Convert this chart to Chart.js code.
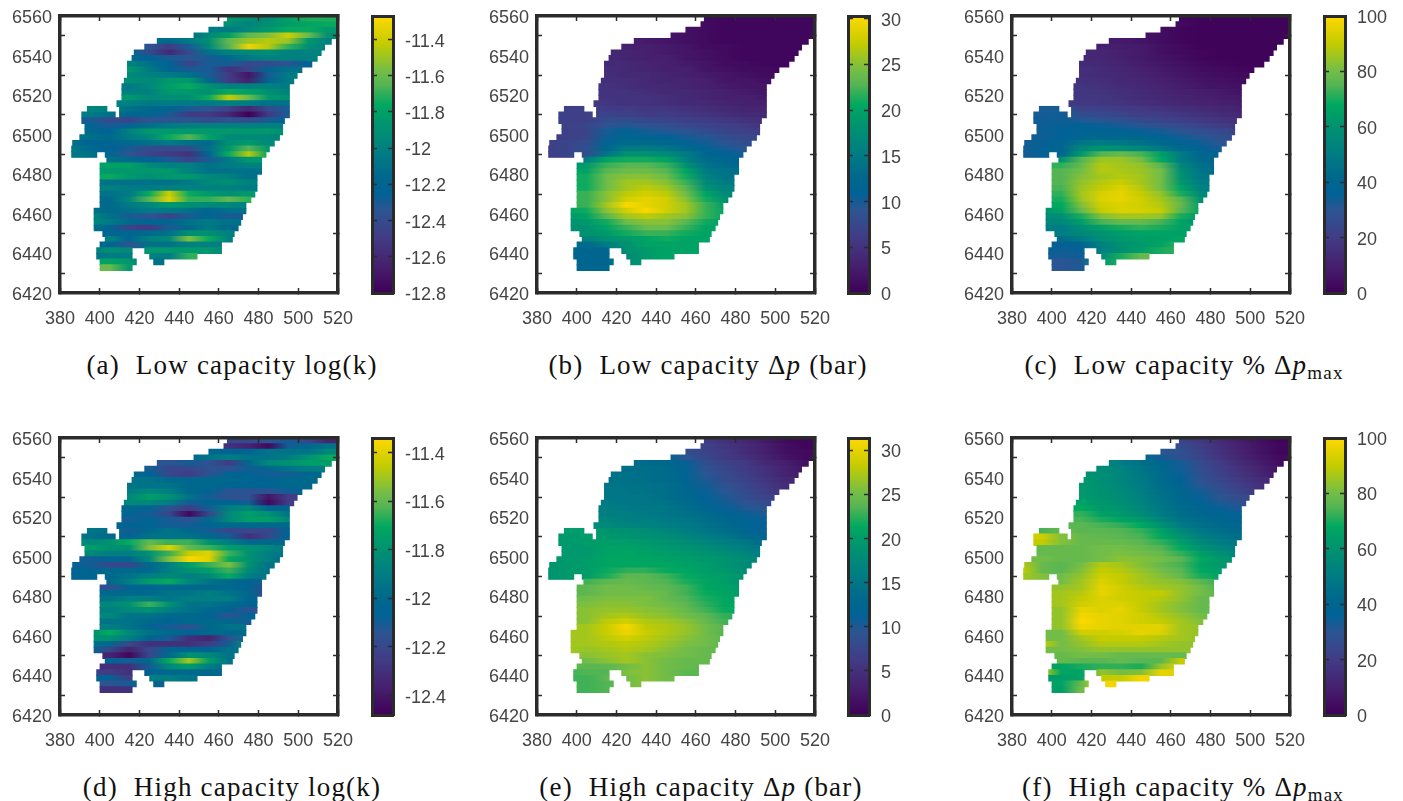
<!DOCTYPE html>
<html lang="en">
<head>
<meta charset="UTF-8" />
<title>Low and high capacity reservoir maps</title>
<script src="https://cdn.jsdelivr.net/npm/chart.js"></script>
<style>
  body { margin: 0; background: #fff; width: 1403px; height: 801px; position: relative; overflow: hidden; }
  canvas { position: absolute; filter: blur(0.5px); }
  .cap { position: absolute; font-family: 'Liberation Serif', serif; font-size: 27px; letter-spacing: 1.2px; color: #111; white-space: nowrap; transform: translateX(-50%); line-height: 28px; }
  .cap i { font-style: italic; }
  .cap sub { font-size: 19px; line-height: 0; vertical-align: -5px; }
</style>
</head>
<body>
<canvas id="pa" width="365" height="330" style="left:0;top:0"></canvas><canvas id="ca" width="91" height="330" style="left:367px;top:0"></canvas>
<canvas id="pb" width="365" height="330" style="left:477px;top:0"></canvas><canvas id="cb" width="91" height="330" style="left:843px;top:0"></canvas>
<canvas id="pc" width="365" height="330" style="left:952px;top:0"></canvas><canvas id="cc" width="91" height="330" style="left:1319px;top:0"></canvas>
<canvas id="pd" width="365" height="330" style="left:0;top:422px"></canvas><canvas id="cd" width="91" height="330" style="left:367px;top:422px"></canvas>
<canvas id="pe" width="365" height="330" style="left:477px;top:422px"></canvas><canvas id="ce" width="91" height="330" style="left:843px;top:422px"></canvas>
<canvas id="pf" width="365" height="330" style="left:952px;top:422px"></canvas><canvas id="cf" width="91" height="330" style="left:1319px;top:422px"></canvas>
<div class="cap" style="left:232px;top:351px">(a)&nbsp; Low capacity log(k)</div>
<div class="cap" style="left:708px;top:351px">(b)&nbsp; Low capacity &Delta;<i>p</i> (bar)</div>
<div class="cap" style="left:1184px;top:351px">(c)&nbsp; Low capacity % &Delta;<i>p</i><sub>max</sub></div>
<div class="cap" style="left:232px;top:773px">(d)&nbsp; High capacity log(k)</div>
<div class="cap" style="left:701px;top:773px">(e)&nbsp; High capacity &Delta;<i>p</i> (bar)</div>
<div class="cap" style="left:1183px;top:773px">(f)&nbsp; High capacity % &Delta;<i>p</i><sub>max</sub></div>
<script>
const xTicks = [380, 400, 420, 440, 460, 480, 500, 520];
const yTicks = [6420, 6440, 6460, 6480, 6500, 6520, 6540, 6560];
const logkLowTicks = [-12.8, -12.6, -12.4, -12.2, -12, -11.8, -11.6, -11.4];
const logkHighTicks = [-12.4, -12.2, -12, -11.8, -11.6, -11.4];
const dpTicks = [0, 5, 10, 15, 20, 25, 30];
const pctTicks = [0, 20, 40, 60, 80, 100];

// model layers, top to bottom
const rowY = [6558.57, 6555.71, 6552.86, 6550, 6547.14, 6544.29, 6541.43, 6538.57, 6535.71, 6532.86, 6530, 6527.14, 6524.29, 6521.43, 6518.57, 6515.71, 6512.86, 6510, 6507.14, 6504.29, 6501.43, 6498.57, 6495.71, 6492.86, 6490, 6487.14, 6484.29, 6481.43, 6478.57, 6475.71, 6472.86, 6470, 6467.14, 6464.29, 6461.43, 6458.57, 6455.71, 6452.86, 6450, 6447.14, 6444.29, 6441.43, 6438.57, 6435.71, 6432.86];

// x extent of the reservoir in each layer
const rowSegments = [
  [[464.3,520]], [[462.6,520]], [[455,520]], [[447.5,520]], [[429,516.6]], [[422.7,513.2]], [[417.4,511.5]], [[416.3,509.5]], [[414,506.8]],
  [[414,501.8]], [[414,499.4]], [[412.4,497.7]], [[411.2,495.5]], [[411.2,495.5]], [[411.2,495.5]], [[408.7,495.5]],
  [[393.8,403.6],[410,495.5]], [[391,407.8],[410,495.5]], [[391,493]], [[392.6,492.1]], [[392.6,492.1]], [[390,490.5]],
  [[386.4,487.9]], [[385.9,485.4]], [[385.9,398.5],[402.8,483.7]], [[403.6,481.5]], [[400.2,481.5]], [[400.2,481.5]],
  [[400.2,479.2]], [[400.2,479.2]], [[400.2,479.2]], [[400.2,478.1]], [[400.2,476.1]], [[400.2,473.6]],
  [[397.2,473.6]], [[397.2,471.9]], [[397.2,471]], [[397.2,469.7]], [[401.6,467.7]], [[402.8,466.8]],
  [[400.2,461.3]], [[398.5,416.3],[422.7,461.3]], [[398.5,416.3],[425.2,449]], [[400.2,418.4],[427.2,432.3]], [[400.2,416.3]]
];

// values per layer, sampled every 10 km from the first column the layer touches
const logkLow = [
  [-11.85,-11.9,-11.95,-11.8,-11.72,-11.72],
  [-11.9,-11.98,-11.9,-11.82,-11.78,-11.75],
  [-12.05,-12.05,-11.95,-11.85,-11.75,-11.75,-11.85],
  [-12.1,-11.95,-11.8,-11.62,-11.55,-11.4,-11.6,-11.9],
  [-12.1,-12.15,-12.05,-11.9,-11.62,-11.5,-11.45,-11.5,-11.85,-12],
  [-12.35,-12.5,-12.3,-11.95,-11.65,-11.32,-11.45,-11.7,-11.9,-12],
  [-12.15,-12.4,-12.6,-12.4,-12.1,-12,-11.95,-11.9,-12,-12,-12],
  [-12.15,-12.25,-12.3,-12.35,-12.3,-12.15,-12.05,-12,-12,-12],
  [-12,-12.1,-12.25,-12.45,-12.3,-12.3,-12.4,-12.4,-12.35,-12.25],
  [-11.85,-12.05,-12.2,-12.3,-12.3,-12.55,-12.45,-12.2,-12.1,-12.1],
  [-11.95,-12,-12.05,-12.1,-12.3,-12.5,-12.7,-12.3,-12.05],
  [-11.9,-11.95,-11.85,-11.85,-12.15,-12.5,-12.65,-12.2,-12.05],
  [-12.05,-11.95,-11.82,-11.75,-11.9,-12,-12,-12,-12.05],
  [-12,-12,-11.85,-11.85,-11.9,-11.75,-11.8,-11.9,-12],
  [-11.85,-11.95,-11.9,-11.9,-11.75,-11.42,-11.6,-11.85,-11.9],
  [-12,-12,-12.05,-12.05,-12.05,-12.05,-12,-12.05,-12.1,-12.1],
  [-11.98,-12,-12.1,-12.15,-12.2,-12.3,-12.35,-12.45,-12.6,-12.4,-12.3],
  [-12.05,-12.1,-12.2,-12.2,-12.3,-12.5,-12.5,-12.6,-12.8,-12.5,-12.3],
  [-12.3,-12.4,-12.45,-12.35,-12.35,-12.35,-12.4,-12.35,-12.4,-12.3,-12.2],
  [-12.2,-12.3,-12.2,-12.1,-12.05,-12,-12,-12,-12,-12,-12],
  [-12.15,-12.25,-12,-11.85,-11.85,-11.85,-11.85,-11.85,-11.85,-11.85,-11.95],
  [-12.1,-12.15,-12.05,-11.95,-11.75,-11.65,-11.8,-11.95,-11.95,-11.95,-12],
  [-12.1,-12.25,-12.2,-12.15,-12.1,-12.05,-12.1,-12.15,-11.9,-11.85,-11.95],
  [-12.05,-12.15,-12.25,-12.3,-12.4,-12.4,-12.4,-12.1,-11.85,-11.65,-11.85],
  [-12.05,-12.1,-12.2,-12.35,-12.45,-12.5,-12.55,-12.2,-11.75,-11.45,-11.8],
  [-12.1,-12.15,-12.25,-12.3,-12.45,-12.3,-12.05,-11.85,-11.85],
  [-11.8,-11.8,-11.95,-12,-12,-12.1,-12.05,-12,-12],
  [-11.85,-11.85,-11.85,-11.85,-12,-12.1,-12.1,-12.1,-12.1],
  [-11.75,-11.85,-11.9,-11.85,-11.85,-11.95,-12,-12.1],
  [-12.1,-12.1,-12.1,-12.1,-12.05,-11.95,-11.9,-12],
  [-12,-12.05,-12.05,-12,-12,-12,-12,-12.05],
  [-12.1,-12.05,-11.75,-11.4,-11.75,-11.85,-11.9,-11.85],
  [-12.15,-11.95,-11.65,-11.35,-11.7,-11.7,-11.62,-11.7],
  [-12.15,-12.05,-11.95,-11.85,-11.9,-11.95,-11.95,-12],
  [-12.1,-12.15,-12.1,-12.05,-12.05,-12.1,-12.2,-12.1,-12.1],
  [-11.95,-12.1,-12.3,-12.35,-12.45,-12.3,-12.2,-12.3,-12.3],
  [-11.95,-12.05,-12.15,-12.2,-12.2,-12.1,-12.05,-12.1,-12.1],
  [-12.1,-12.2,-12.45,-12.5,-12.3,-12.15,-12.05,-12.15],
  [-12.2,-12.2,-12.15,-12.1,-11.9,-11.9,-12],
  [-12,-12.2,-12,-11.95,-11.55,-11.75,-12],
  [-12.2,-12.35,-12.1,-12.1,-12,-12,-12.05],
  [-12.05,-11.9,-11.95,-11.85,-11.85,-11.85,-11.85,-12],
  [-12.1,-12.05,-12.05,-12,-12.05,-11.7],
  [-11.8,-11.85,-12.1,-12.1],
  [-11.6,-11.85]
];
const dpLow = [
  [1,.5,.5,.5,.5,.5],
  [1,.5,.5,.5,.5,.5],
  [1.5,1,.5,.5,.5,.5,.5],
  [2,1.5,1,.5,.5,.5,.5,.5],
  [3,2.5,2,1.5,1,.5,.5,.5,.5,.5],
  [3,3,2.5,2,1,1,.5,.5,.5,.5],
  [4,3.5,3,2.5,2,1.5,1,.5,.5,.5,.5],
  [4,3.5,3,3,2,1.5,1,.5,.5,.5],
  [4,4,3.5,3,2.5,2,1,1,.5,.5],
  [4.5,4,3.5,3,3,2,1.5,1,1,.5],
  [4.5,4,4,3.5,3,2.5,2,1.5,1],
  [4.5,4.5,4,3.5,3.5,3,2,2,1.5],
  [5,4.5,4,4,3.5,3,2.5,2,2],
  [5,5,4.5,4,4,3.5,3,2.5,2],
  [5,5,5,4.5,4,3.5,3,3,2.5],
  [5.5,5.5,5,5,4.5,4,4,3.5,3,3],
  [6.5,6.5,6,6,5.5,5.5,5,4.5,4,3.5,3.5],
  [6.5,6.5,7,6.5,6,6,5.5,5,4.5,4,4],
  [6.5,6.5,8,8,7.5,7,6.5,6,5.5,5,4.5],
  [6.5,7,9,9.5,9,8.5,7.5,7,6.5,6,5],
  [6.5,7,10,11,10,9.5,9,8,7,6.5,6],
  [6.5,7,10.5,12,12,11,10,9.5,8,7.5,7],
  [6.5,7,8,11.5,13,13,12.5,11.5,10,9,8],
  [6.5,7,8.5,12.5,15,15,14.5,13,11.5,10,9],
  [6.5,7,8,14,18,18,17,15,12,11,10],
  [15,20,21,21,20,16,13,12,11],
  [19,22,23,23,22,18,14,13,12],
  [20,23,24,24,23,20,15,14,13],
  [21,24,25,25,24,21,16,14],
  [21,24,26,26,25,22,17,15],
  [21,24,26,27,26,23,18,16],
  [22,25,27,28,27,24,20,17],
  [22,25,28,29,28,25,21,18],
  [22,26,30,29,28,26,22,19],
  [20,21,25,28,30,28,26,22,20],
  [19,20,23,26,27,26,25,22,20],
  [18,19,21,24,25,25,23,21,19],
  [18,18,20,22,24,24,22,20],
  [18,19,21,22,22,21,20],
  [16,18,19,20,21,20,20],
  [13,15,18,20,20,20,20],
  [12,12,12,18,19,20,20,20],
  [12,12,12,17,19,20],
  [12,12,17,19],
  [12,12]
];
const pctLow = [
  [2,1,1,1,1,1],
  [3,1,1,1,1,1],
  [4,2,1,1,1,1,1],
  [6,4,2,1,1,1,1,1],
  [9,8,6,4,2,1,1,1,1,1],
  [10,9,8,5,3,1,1,1,1,1],
  [13,12,10,8,5,3,2,1,1,1,1],
  [13,12,10,8,6,4,2,1,1,1],
  [14,13,11,9,7,5,3,2,1,1],
  [15,14,12,10,8,6,4,3,2,1],
  [15,14,13,11,9,7,5,4,3],
  [16,15,13,12,10,8,6,5,4],
  [17,16,14,13,11,9,7,6,5],
  [18,17,15,14,12,10,9,8,6],
  [18,18,16,14,13,11,10,9,8],
  [19,19,18,17,15,14,12,11,10,9],
  [33,33,22,22,20,19,17,15,14,12,11],
  [33,34,26,25,23,21,20,18,16,14,13],
  [34,34,32,30,28,25,23,21,19,17,15],
  [34,35,36,35,33,31,28,26,23,20,18],
  [34,36,38,38,37,35,33,30,27,25,22],
  [34,36,40,42,41,40,37,34,31,28,25],
  [33,35,38,47,50,48,46,42,38,34,30],
  [33,36,40,55,60,58,55,48,42,37,33],
  [33,35,40,62,75,78,74,65,50,40,36],
  [60,75,85,85,80,68,50,42,38],
  [72,78,88,86,84,76,55,45,40],
  [75,80,88,87,85,80,58,47,42],
  [75,82,86,88,86,80,60,48],
  [75,84,88,91,86,80,62,50],
  [74,85,90,94,88,80,66,52],
  [72,86,93,96,90,84,70,56],
  [70,85,94,96,92,86,76,60],
  [68,82,92,94,92,88,78,64],
  [60,66,78,90,94,93,90,76,66],
  [55,58,70,82,86,86,84,70,62],
  [54,55,64,74,78,78,74,66,60],
  [50,50,58,65,70,72,70,65],
  [50,55,60,64,66,66,65],
  [44,50,58,62,64,65,67],
  [35,38,52,60,62,66,72],
  [36,34,35,52,58,64,70,72],
  [34,33,34,56,70,78],
  [30,32,62,70],
  [30,32]
];
const logkHigh = [
  [-12.2,-12.2,-12.15,-12.1,-12.2,-12.35],
  [-12.3,-12.35,-12.45,-12.1,-12,-11.95],
  [-12,-12.05,-12.05,-11.95,-11.95,-11.95,-11.85],
  [-12,-11.95,-11.9,-11.95,-11.95,-11.9,-11.8,-11.7],
  [-12.15,-12.15,-12.1,-12.15,-12.25,-12,-11.85,-11.8,-11.75,-11.75],
  [-12.1,-12.2,-12.2,-12.15,-12.15,-12.1,-12,-11.95,-11.9,-11.9],
  [-12,-12.05,-12.2,-12.25,-12.15,-12.05,-12.05,-12.1,-12.1,-12,-12],
  [-11.95,-11.95,-12,-12,-12,-12,-12.05,-12.05,-12,-12],
  [-11.95,-11.95,-11.95,-12,-12,-12.05,-12.05,-12.05,-12,-12],
  [-11.9,-11.85,-11.9,-12,-12.05,-12.15,-12.15,-12.15,-12.1,-12.05],
  [-11.85,-11.75,-11.8,-11.95,-12.1,-12.15,-12.15,-12.4,-12.25],
  [-11.85,-11.85,-11.9,-12.1,-12.05,-12.05,-12.1,-12.45,-12.25],
  [-12,-12.05,-12.15,-12.25,-12.1,-11.9,-11.85,-12.05,-12.05],
  [-12.05,-12.1,-12.2,-12.45,-12.2,-11.85,-11.75,-11.8,-11.95],
  [-12.1,-12.05,-12.1,-12.15,-12,-11.85,-11.75,-11.75,-11.85],
  [-12.05,-12.05,-12.05,-12.1,-12.1,-12.05,-12,-12,-12,-12],
  [-11.95,-11.95,-12.1,-12,-11.95,-12,-12.1,-12.2,-12.2,-12.2,-12.05],
  [-11.95,-12,-12.05,-11.95,-11.95,-11.95,-12,-12.1,-12.3,-12.2,-12.05],
  [-11.85,-11.8,-11.7,-11.6,-11.65,-11.65,-11.8,-11.9,-12,-12,-12],
  [-11.75,-11.8,-11.8,-11.55,-11.4,-11.6,-11.65,-11.75,-11.8,-11.85,-11.95],
  [-11.85,-11.9,-11.9,-11.8,-11.65,-11.45,-11.4,-11.65,-11.8,-11.9,-11.95],
  [-12.1,-12.05,-12,-11.85,-11.55,-11.35,-11.4,-11.7,-11.8,-11.9,-12],
  [-12.05,-12.1,-12.2,-12.2,-12,-11.9,-11.75,-11.65,-11.55,-11.8,-11.95],
  [-12.05,-12.05,-12,-12,-12,-11.9,-11.8,-11.75,-11.65,-11.85,-11.95],
  [-12.05,-12.05,-12,-11.95,-11.9,-11.85,-11.9,-11.85,-11.7,-11.9,-11.95],
  [-12,-11.9,-11.75,-11.7,-11.85,-11.95,-12,-12.05,-12.1],
  [-12.15,-12.05,-12.05,-12,-12,-12,-12,-12.05,-12.2],
  [-12,-12,-12,-11.95,-11.95,-11.9,-11.95,-12,-12.2],
  [-11.95,-11.9,-11.9,-11.95,-11.9,-11.9,-11.9,-12.05],
  [-11.85,-11.8,-11.65,-11.8,-11.95,-11.95,-12,-12.05],
  [-11.9,-11.85,-11.8,-11.9,-11.95,-12,-12.05,-12.15],
  [-11.85,-11.95,-11.95,-12,-12,-12.05,-12.15,-12.05],
  [-11.95,-11.95,-12,-12.05,-12,-12,-12,-12.1],
  [-11.9,-11.95,-12.05,-12.1,-12.15,-12,-11.95,-11.95],
  [-11.85,-11.7,-11.85,-11.95,-12,-12.05,-12,-12,-12],
  [-11.8,-11.8,-11.9,-12.05,-12.1,-12.3,-12.35,-12.15,-11.95],
  [-11.95,-12,-12.2,-12.3,-12.3,-12.3,-12.25,-12.1,-11.8],
  [-12.05,-12.2,-12.35,-12.2,-12.05,-12.05,-12.05,-11.95],
  [-12.35,-12.45,-12.2,-12,-11.8,-11.85,-11.95],
  [-12.05,-12.1,-12,-11.7,-11.5,-11.75,-11.95],
  [-12.3,-12.3,-12.1,-11.85,-11.75,-11.9,-12],
  [-12.25,-12.25,-12.3,-12.05,-12,-12,-12,-12],
  [-12.05,-12.05,-12.25,-11.9,-11.9,-11.95],
  [-12.15,-12.1,-12,-12.1],
  [-12.3,-12.3]
];
const dpHigh = [
  [6,5,4,2.5,1,.5],
  [7,5.5,4.5,3,1.5,.5],
  [8.5,7,6,4.5,3,1.5,1],
  [12,9.5,7.5,6,5,3.5,2,1],
  [14,13.5,13,11,8.5,7,6,4,3,1.5],
  [14,14,13.5,12,9,7.5,6,5,3.5,2],
  [14.5,14.5,14,13.5,12,9.5,8,6.5,5,3.5,2.5],
  [14.5,14.5,14,13.5,12,10,8,7,5.5,4],
  [15,14.5,14.5,14,12.5,10.5,9,7.5,6,4.5],
  [15,15,14.5,14,13,11,9.5,8,6.5,5],
  [15,15,15,14,13,11.5,10,8.5,7],
  [15.5,15,15,14.5,13.5,12,10.5,9,8],
  [16,15.5,15,15,14,12.5,11,10,9],
  [16,16,15.5,15,14.5,13.5,12,11,10],
  [17,16,16,15.5,15,14,13,12,11],
  [18,17.5,17,16.5,16,15.5,14.5,13.5,12,11],
  [20,20,19,18.5,18,17,16,15,14,12.5,11],
  [19.5,20,19.5,19,18.5,18,17,16,15,13.5,12],
  [19.5,20,20,20,19.5,19,18,17,16,15,13],
  [19.5,19.5,20.5,20.5,20,19.5,19,18,17,16,14.5],
  [19.5,19.5,20.5,21,20.5,20,19.5,19,18,17,15.5],
  [19.5,20,21,21,21,20.5,20,19.5,19,18,16.5],
  [19,19.5,20,21,21,21,21,20.5,20,19,17.5],
  [19,19.5,20,21.5,22.5,22.5,21.5,21,20,19.5,18],
  [19,19.5,20,22,24,24,23,21.5,20.5,20,19],
  [23,24,24.5,24,23.5,22,21,20,19],
  [24,25,25,24.5,24,23,21,20.5,19.5],
  [24,25,25,25,24.5,23,21.5,20.5,20],
  [25,25.5,25.5,25.5,24.5,23.5,22,21],
  [25.5,26,26,25.5,25,24,22.5,21],
  [26,26.5,26.5,26,25.5,24.5,23,21.5],
  [26,27,27.5,26.5,26,25,24,22.5],
  [26,28,29,27.5,27,26,24.5,23],
  [27,28.5,31,28,27.5,26.5,25,23.5],
  [27,27,28.5,30.5,28.5,27.5,26.5,25,23.5],
  [27,27,28,29,28,27,26,25,24],
  [27,27,27.5,28,27.5,26.5,25.5,25,24],
  [27,26.5,27,27.5,27,26,25,24.5],
  [26,26.5,27,26,25.5,25,24.5],
  [25,26,27,26,25,24.5,24.5],
  [24,24,25,26,25,24.5,24],
  [23,23.5,23.5,25.5,26,25,24,24],
  [23,23,24,25,26,25],
  [23,23.5,25,26],
  [23,23.5]
];
const pctHigh = [
  [24,19,14,9,5,1],
  [26,21,15,10,6,2],
  [30,28,22,16,11,6,2],
  [44,33,28,23,17,12,7,3],
  [55,50,45,40,33,26,20,14,9,4],
  [57,53,47,42,34,27,21,16,11,6],
  [60,58,54,48,43,35,28,22,17,12,7],
  [62,58,54,49,43,36,29,24,19,14],
  [62,59,55,50,44,38,31,26,21,16],
  [62,60,56,51,45,40,33,28,23,18],
  [63,60,57,52,46,41,35,30,25],
  [65,61,58,53,47,42,37,32,28],
  [68,63,60,55,48,43,39,35,32],
  [72,65,62,57,50,44,41,38,35],
  [74,70,66,62,54,46,43,40,37],
  [76,76,74,72,68,60,50,45,42,40],
  [74,78,76,76,75,72,65,55,48,44,42],
  [92,82,78,77,76,74,68,60,52,47,44],
  [90,82,78,78,78,76,72,64,56,50,47],
  [78,78,78,80,80,78,75,68,60,54,50],
  [78,78,78,80,81,80,78,72,64,58,54],
  [80,78,78,80,83,82,80,76,68,62,58],
  [88,78,76,80,88,86,82,78,74,66,62],
  [90,78,76,82,90,88,84,80,76,68,64],
  [86,82,80,84,92,90,86,82,78,70,66],
  [80,86,94,90,86,84,82,76,72],
  [84,86,96,92,88,86,84,80,74],
  [86,88,96,92,90,90,84,80,76],
  [86,90,94,92,90,88,84,78],
  [86,92,94,94,90,86,82,78],
  [84,96,94,96,90,86,82,78],
  [84,98,96,95,92,88,84,80],
  [84,100,96,95,92,90,86,82],
  [84,98,96,95,95,95,86,84],
  [80,80,92,92,93,96,94,86,84],
  [80,80,86,90,90,90,88,86,84],
  [90,80,84,88,88,88,86,84,84],
  [80,80,82,84,84,84,84,84],
  [78,80,80,78,78,78,78],
  [78,76,76,78,76,76,90],
  [66,70,72,72,70,84,96],
  [92,66,66,84,80,82,96,94],
  [62,64,66,90,90,98],
  [66,78,98,98],
  [64,80]
];

// colour map
const mapPos = [0, .1, .2, .3, .36, .42, .5, .6, .68, .75, .8, .9, 1];
const mapCol = ['#3f0058', '#46206e', '#413c85', '#2b5592', '#006296', '#00688c', '#007c84', '#009270', '#00a860', '#54b454', '#72bd48', '#c4cc00', '#ffd800'];
const hex = s => [1, 3, 5].map(i => parseInt(s.substr(i, 2), 16));

function colourAt(f) {
  f = Math.max(0, Math.min(1, f));
  let i = 0;
  while (i < mapPos.length - 2 && f > mapPos[i + 1]) i++;
  const t = (f - mapPos[i]) / (mapPos[i + 1] - mapPos[i]);
  const a = hex(mapCol[i]), b = hex(mapCol[i + 1]);
  return 'rgb(' + a.map((v, k) => Math.round(v + (b[k] - v) * t)).join(',') + ')';
}

const inkColor = '#2b2b2b';
const tickFont = { family: "'Liberation Sans', sans-serif", size: 18 };
const tickColor = '#444';

function setTicks(list) {
  return s => { s.ticks = list.map(v => ({ value: v })); };
}

// no room for overhanging labels, the plot box is fixed
function noOverhang(s) {
  s.paddingLeft = s.paddingRight = s.paddingTop = s.paddingBottom = 0;
}

function axisOpts(min, max, list, position, showLabels, size, padding) {
  const vertical = position === 'left' || position === 'right';
  return {
    type: 'linear', position, min, max, offset: false,
    afterBuildTicks: setTicks(list),
    afterFit: s => { noOverhang(s); if (s.isHorizontal()) s.height = size; else s.width = size; },
    grid: { drawOnChartArea: false, tickLength: -5, tickWidth: 1.5, tickColor: inkColor, z: 1 },
    border: { display: true, width: 3.5, color: inkColor, z: 1 },
    ticks: { display: showLabels, font: tickFont, color: tickColor, padding, labelOffset: vertical ? 2 : 0, maxRotation: 0, autoSkip: false, callback: v => String(v) }
  };
}

function fieldChart(id, values, lo, hi) {
  const cells = [];
  rowSegments.forEach((segs, r) => segs.forEach(seg => cells.push({ y: rowY[r], x: seg, row: r })));
  const cache = {};
  const rowFill = (chart, r) => {
    // first pass runs before the layout
    if (!chart.chartArea) return '#888';
    if (cache[r]) return cache[r];
    const x = chart.scales.x;
    const g = chart.ctx.createLinearGradient(x.getPixelForValue(380), 0, x.getPixelForValue(520), 0);
    const first = Math.floor((rowSegments[r][0][0] - 380) / 10);
    values[r].forEach((v, k) => g.addColorStop((5 + 10 * (first + k)) / 140, colourAt((v - lo) / (hi - lo))));
    return (cache[r] = g);
  };
  new Chart(document.getElementById(id), {
    type: 'bar',
    data: { datasets: [{
      data: cells,
      backgroundColor: c => (c.raw ? rowFill(c.chart, c.raw.row) : '#fff'),
      borderWidth: 0, inflateAmount: 0.5, barPercentage: 1, categoryPercentage: 1, grouped: false
    }] },
    options: {
      indexAxis: 'y', responsive: false, animation: false, events: [],
      layout: { padding: { top: 16, right: 27 } },
      plugins: { legend: { display: false }, tooltip: { enabled: false } },
      scales: {
        x: axisOpts(380, 520, xTicks, 'bottom', true, 37, 20),
        y: axisOpts(6420, 6560, yTicks, 'left', true, 60, 13),
        x2: axisOpts(380, 520, xTicks, 'top', false, 0, 0),
        y2: axisOpts(6420, 6560, yTicks, 'right', false, 0, 0)
      }
    }
  });
}

function barChart(id, list, lo, hi) {
  const cat = (position, size) => ({
    type: 'category', position, labels: [''], offset: true,
    afterFit: s => { noOverhang(s); s.height = size; },
    grid: { display: false }, ticks: { display: false },
    border: { display: true, width: 3, color: inkColor, z: 1 }
  });
  const y = axisOpts(lo, hi, list, 'right', true, 65, 17);
  const y2 = axisOpts(lo, hi, list, 'left', false, 0, 0);
  y.border.width = y2.border.width = 3;
  new Chart(document.getElementById(id), {
    type: 'bar',
    data: { labels: [''], datasets: [{
      data: [[lo, hi]],
      backgroundColor: c => {
        const a = c.chart.chartArea;
        if (!a) return '#888';
        const g = c.chart.ctx.createLinearGradient(0, a.bottom, 0, a.top);
        mapPos.forEach((p, i) => g.addColorStop(p, mapCol[i]));
        return g;
      },
      borderWidth: 0, barPercentage: 1, categoryPercentage: 1
    }] },
    options: {
      responsive: false, animation: false, events: [],
      layout: { padding: { top: 16, left: 5 } },
      plugins: { legend: { display: false }, tooltip: { enabled: false } },
      scales: { x: cat('bottom', 37), x2: cat('top', 0), y, y2 }
    }
  });
}

fieldChart('pa', logkLow, -12.8, -11.27);
fieldChart('pb', dpLow, 0, 30.3);
fieldChart('pc', pctLow, 0, 100);
fieldChart('pd', logkHigh, -12.48, -11.34);
fieldChart('pe', dpHigh, 0, 31.4);
fieldChart('pf', pctHigh, 0, 100);
barChart('ca', logkLowTicks, -12.8, -11.27);
barChart('cb', dpTicks, 0, 30.3);
barChart('cc', pctTicks, 0, 100);
barChart('cd', logkHighTicks, -12.48, -11.34);
barChart('ce', dpTicks, 0, 31.4);
barChart('cf', pctTicks, 0, 100);
</script>
</body>
</html>
